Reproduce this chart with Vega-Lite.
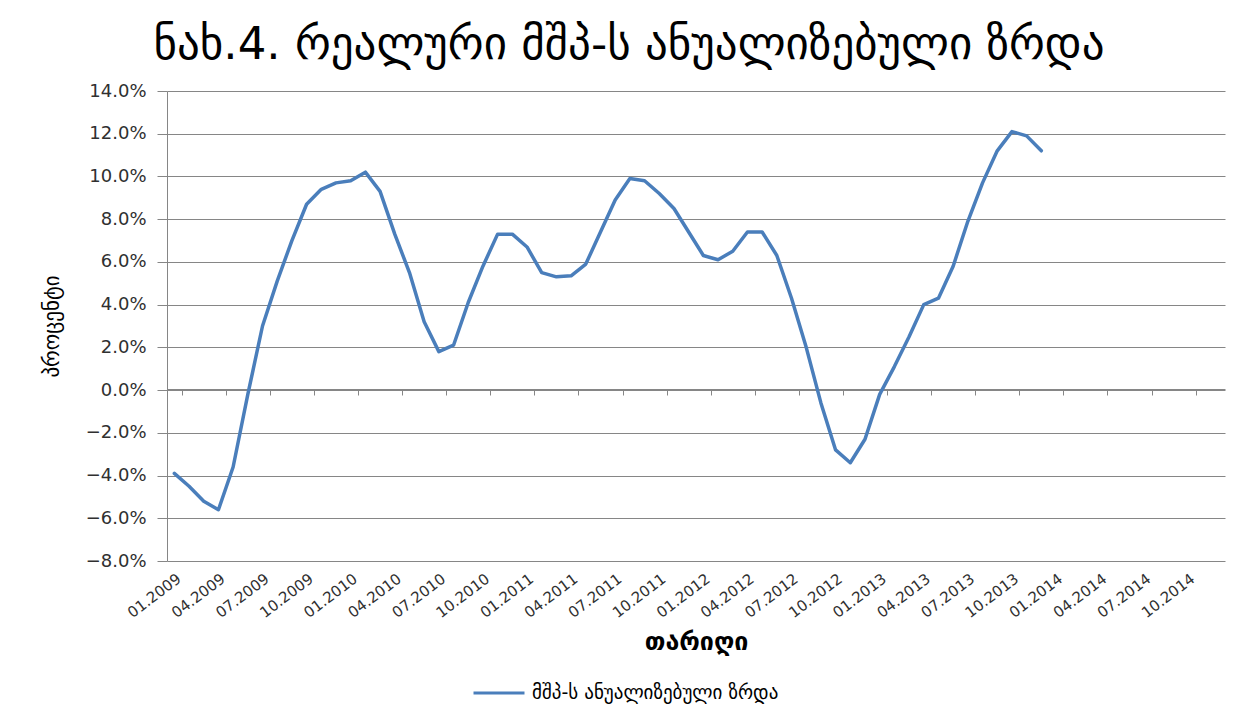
{
  "$schema": "https://vega.github.io/schema/vega-lite/v6.json",
  "width": 1058,
  "height": 470,
  "autosize": {"type": "none"},
  "padding": {"left": 167, "top": 91, "right": 33, "bottom": 158},
  "background": "white",
  "title": {
    "text": "ნახ.4. რეალური მშპ-ს ანუალიზებული ზრდა",
    "font": "DejaVu Sans",
    "fontSize": 45,
    "fontWeight": "normal",
    "color": "#000000",
    "anchor": "middle",
    "dx": -67,
    "offset": 14
  },
  "data": {
    "values": [
      {"month": "01.2009", "growth": -3.9},
      {"month": "02.2009", "growth": -4.5},
      {"month": "03.2009", "growth": -5.2},
      {"month": "04.2009", "growth": -5.6},
      {"month": "05.2009", "growth": -3.6},
      {"month": "06.2009", "growth": -0.2},
      {"month": "07.2009", "growth": 3.0},
      {"month": "08.2009", "growth": 5.1},
      {"month": "09.2009", "growth": 7.0},
      {"month": "10.2009", "growth": 8.7},
      {"month": "11.2009", "growth": 9.4},
      {"month": "12.2009", "growth": 9.7},
      {"month": "01.2010", "growth": 9.8},
      {"month": "02.2010", "growth": 10.2},
      {"month": "03.2010", "growth": 9.3},
      {"month": "04.2010", "growth": 7.3},
      {"month": "05.2010", "growth": 5.5},
      {"month": "06.2010", "growth": 3.2},
      {"month": "07.2010", "growth": 1.8},
      {"month": "08.2010", "growth": 2.1},
      {"month": "09.2010", "growth": 4.1},
      {"month": "10.2010", "growth": 5.8},
      {"month": "11.2010", "growth": 7.3},
      {"month": "12.2010", "growth": 7.3},
      {"month": "01.2011", "growth": 6.7},
      {"month": "02.2011", "growth": 5.5},
      {"month": "03.2011", "growth": 5.3},
      {"month": "04.2011", "growth": 5.35},
      {"month": "05.2011", "growth": 5.9},
      {"month": "06.2011", "growth": 7.4},
      {"month": "07.2011", "growth": 8.9},
      {"month": "08.2011", "growth": 9.9},
      {"month": "09.2011", "growth": 9.8},
      {"month": "10.2011", "growth": 9.2},
      {"month": "11.2011", "growth": 8.5},
      {"month": "12.2011", "growth": 7.4},
      {"month": "01.2012", "growth": 6.3},
      {"month": "02.2012", "growth": 6.1},
      {"month": "03.2012", "growth": 6.5},
      {"month": "04.2012", "growth": 7.4},
      {"month": "05.2012", "growth": 7.4},
      {"month": "06.2012", "growth": 6.3},
      {"month": "07.2012", "growth": 4.3},
      {"month": "08.2012", "growth": 2.0},
      {"month": "09.2012", "growth": -0.6},
      {"month": "10.2012", "growth": -2.8},
      {"month": "11.2012", "growth": -3.4},
      {"month": "12.2012", "growth": -2.3},
      {"month": "01.2013", "growth": -0.2},
      {"month": "02.2013", "growth": 1.1},
      {"month": "03.2013", "growth": 2.5},
      {"month": "04.2013", "growth": 4.0},
      {"month": "05.2013", "growth": 4.3},
      {"month": "06.2013", "growth": 5.8},
      {"month": "07.2013", "growth": 7.9},
      {"month": "08.2013", "growth": 9.7},
      {"month": "09.2013", "growth": 11.2},
      {"month": "10.2013", "growth": 12.1},
      {"month": "11.2013", "growth": 11.9},
      {"month": "12.2013", "growth": 11.2}
    ]
  },
  "mark": {"type": "line", "strokeWidth": 3.5, "strokeJoin": "round", "strokeCap": "round"},
  "encoding": {
    "x": {
      "field": "month",
      "type": "ordinal",
      "sort": null,
      "bandPosition": 0.5,
      "scale": {
        "type": "band",
        "paddingInner": 0,
        "paddingOuter": 0,
        "domain": [
          "01.2009", "02.2009", "03.2009", "04.2009", "05.2009", "06.2009", "07.2009", "08.2009", "09.2009", "10.2009", "11.2009", "12.2009",
          "01.2010", "02.2010", "03.2010", "04.2010", "05.2010", "06.2010", "07.2010", "08.2010", "09.2010", "10.2010", "11.2010", "12.2010",
          "01.2011", "02.2011", "03.2011", "04.2011", "05.2011", "06.2011", "07.2011", "08.2011", "09.2011", "10.2011", "11.2011", "12.2011",
          "01.2012", "02.2012", "03.2012", "04.2012", "05.2012", "06.2012", "07.2012", "08.2012", "09.2012", "10.2012", "11.2012", "12.2012",
          "01.2013", "02.2013", "03.2013", "04.2013", "05.2013", "06.2013", "07.2013", "08.2013", "09.2013", "10.2013", "11.2013", "12.2013",
          "01.2014", "02.2014", "03.2014", "04.2014", "05.2014", "06.2014", "07.2014", "08.2014", "09.2014", "10.2014", "11.2014", "12.2014"
        ]
      },
      "axis": {
        "values": [
          "01.2009", "04.2009", "07.2009", "10.2009",
          "01.2010", "04.2010", "07.2010", "10.2010",
          "01.2011", "04.2011", "07.2011", "10.2011",
          "01.2012", "04.2012", "07.2012", "10.2012",
          "01.2013", "04.2013", "07.2013", "10.2013",
          "01.2014", "04.2014", "07.2014", "10.2014"
        ],
        "tickBand": "extent",
        "offset": -172,
        "tickSize": 6,
        "tickColor": "#868686",
        "domainColor": "#868686",
        "grid": false,
        "labelAngle": -37,
        "labelPadding": 176,
        "labelFont": "DejaVu Sans",
        "labelFontSize": 15,
        "labelColor": "#303030",
        "labelOverlap": false,
        "title": "თარიღი",
        "titleFont": "DejaVu Sans",
        "titleFontSize": 25,
        "titleFontWeight": "bold",
        "titleColor": "#000000",
        "titlePadding": 40
      }
    },
    "y": {
      "field": "growth",
      "type": "quantitative",
      "scale": {"domain": [-8, 14], "nice": false, "zero": false},
      "axis": {
        "values": [-8, -6, -4, -2, 0, 2, 4, 6, 8, 10, 12, 14],
        "labelExpr": "format(datum.value, '.1f') + '%'",
        "labelFont": "DejaVu Sans",
        "labelFontSize": 18,
        "labelColor": "#303030",
        "labelPadding": 11,
        "tickSize": 10,
        "tickColor": "#868686",
        "domainColor": "#868686",
        "grid": true,
        "gridColor": "#868686",
        "gridWidth": 1,
        "title": "პროცენტი",
        "titleFont": "DejaVu Sans",
        "titleFontSize": 21,
        "titleFontWeight": "normal",
        "titleColor": "#000000",
        "titlePadding": 23
      }
    },
    "color": {
      "datum": "მშპ-ს ანუალიზებული ზრდა",
      "type": "nominal",
      "scale": {"range": ["#4a7ebb"]},
      "legend": {
        "orient": "none",
        "legendX": 305,
        "legendY": 575,
        "title": null,
        "padding": 0,
        "symbolType": "stroke",
        "symbolSize": 2600,
        "symbolStrokeWidth": 3,
        "labelFont": "DejaVu Sans",
        "labelFontSize": 19,
        "labelLimit": 500,
        "labelColor": "#000000",
        "labelOffset": 6
      }
    }
  },
  "config": {"view": {"stroke": null}}
}
